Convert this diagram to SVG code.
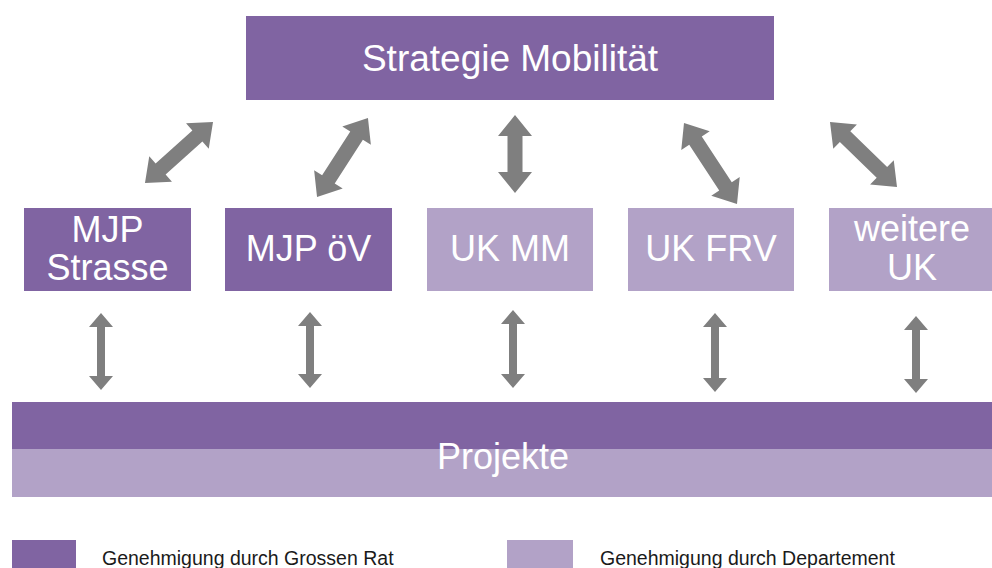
<svg xmlns="http://www.w3.org/2000/svg" width="992" height="568" viewBox="0 0 992 568">
<style>
.dark{fill:#8064a2}
.light{fill:#b2a2c7}
.lbl{fill:#ffffff;font-family:"Liberation Sans",Arial,sans-serif;font-size:36px;text-anchor:middle}
.big{font-size:37px}
.leg{fill:#1a1a1a;font-family:"Liberation Sans",Arial,sans-serif;font-size:19.5px}
.arr{fill:#7f7f7f}
</style>
<rect width="992" height="568" fill="#ffffff"/>
<g id="strategie">
<rect class="dark" x="246" y="16" width="528" height="84"/>
<text class="lbl big" x="510" y="71">Strategie Mobilität</text>
</g>
<g id="mjp-strasse">
<rect class="dark" x="24" y="208" width="167" height="83"/>
<text class="lbl" x="107.5" y="242">MJP</text>
<text class="lbl" x="107.5" y="280">Strasse</text>
</g>
<g id="mjp-oev">
<rect class="dark" x="225" y="208" width="167" height="83"/>
<text class="lbl" x="308.5" y="261">MJP öV</text>
</g>
<g id="uk-mm">
<rect class="light" x="427" y="208" width="166" height="83"/>
<text class="lbl" x="510" y="261">UK MM</text>
</g>
<g id="uk-frv">
<rect class="light" x="628" y="208" width="166" height="83"/>
<text class="lbl" x="711" y="261">UK FRV</text>
</g>
<g id="weitere-uk">
<rect class="light" x="829" y="208" width="166" height="83"/>
<text class="lbl" x="912" y="241">weitere</text>
<text class="lbl" x="912" y="280">UK</text>
</g>
<g id="projekte">
<rect class="dark" x="12" y="402" width="980" height="47"/>
<rect class="light" x="12" y="449" width="980" height="48"/>
<text class="lbl" x="503" y="469">Projekte</text>
</g>
<g id="connectors">
<polygon class="arr" transform="translate(179,152.5) rotate(-41.9)" points="-45.7,0 -24.7,-17 -24.7,-7.5 24.7,-7.5 24.7,-17 45.7,0 24.7,17 24.7,7.5 -24.7,7.5 -24.7,17"/>
<polygon class="arr" transform="translate(342.5,157.5) rotate(-57.2)" points="-47,0 -26,-17 -26,-7.5 26,-7.5 26,-17 47,0 26,17 26,7.5 -26,7.5 -26,17"/>
<polygon class="arr" transform="translate(515,154) rotate(90)" points="-39,0 -18,-17 -18,-7.5 18,-7.5 18,-17 39,0 18,17 18,7.5 -18,7.5 -18,17"/>
<polygon class="arr" transform="translate(710.5,163.5) rotate(56.8)" points="-48.4,0 -27.4,-17 -27.4,-7.5 27.4,-7.5 27.4,-17 48.4,0 27.4,17 27.4,7.5 -27.4,7.5 -27.4,17"/>
<polygon class="arr" transform="translate(863.5,154.5) rotate(44.1)" points="-46.65,0 -25.65,-17 -25.65,-7.5 25.65,-7.5 25.65,-17 46.65,0 25.65,17 25.65,7.5 -25.65,7.5 -25.65,17"/>
<polygon class="arr" points="101,313 113,327 105,327 105,376 113,376 101,390 89,376 97,376 97,327 89,327"/>
<polygon class="arr" points="310,312 322,326 314,326 314,374 322,374 310,388 298,374 306,374 306,326 298,326"/>
<polygon class="arr" points="513,310 525,324 517,324 517,374 525,374 513,388 501,374 509,374 509,324 501,324"/>
<polygon class="arr" points="715,313 727,327 719,327 719,378 727,378 715,392 703,378 711,378 711,327 703,327"/>
<polygon class="arr" points="916,316 928,330 920,330 920,379 928,379 916,393 904,379 912,379 912,330 904,330"/>
</g>
<g id="legend">
<rect class="dark" x="12" y="540" width="64" height="28"/>
<text class="leg" x="102" y="565">Genehmigung durch Grossen Rat</text>
<rect class="light" x="507" y="540" width="66" height="28"/>
<text class="leg" x="600" y="565">Genehmigung durch Departement</text>
</g>
</svg>
